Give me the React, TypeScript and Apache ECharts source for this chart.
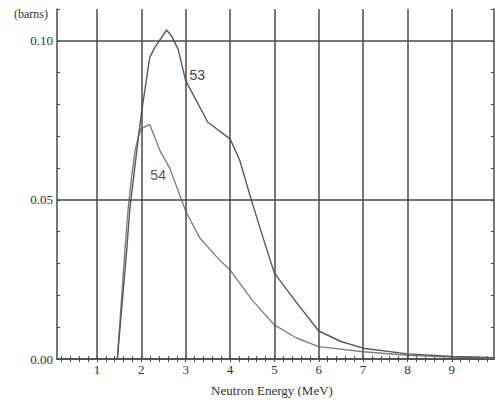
import React, { useEffect, useRef } from 'react';
import * as echarts from 'echarts';

// Neutron energy (MeV) and cross-section (barns)
const energy53 = [1.46, 1.67, 1.74, 1.86, 2.0, 2.19, 2.31, 2.57, 2.68, 2.83, 3.0, 3.5, 4.0, 4.22, 4.48, 4.74, 5.0, 5.5, 6.0, 6.5, 7.0, 8.0, 9.0, 9.95];
const sigma53 = [0, 0.034, 0.047, 0.061, 0.077, 0.0948, 0.098, 0.1034, 0.1016, 0.0974, 0.0875, 0.0744, 0.0692, 0.0624, 0.05, 0.0383, 0.027, 0.0177, 0.0088, 0.0055, 0.0034, 0.0016, 0.0008, 0.0004];

const energy54 = [1.46, 1.63, 1.7, 1.78, 1.86, 1.93, 2.0, 2.19, 2.42, 2.64, 3.0, 3.32, 3.77, 4.0, 4.5, 5.0, 5.5, 6.0, 7.0, 8.0, 9.0, 9.95];
const sigma54 = [0, 0.034, 0.0467, 0.057, 0.0655, 0.0697, 0.0724, 0.0737, 0.0655, 0.06, 0.0465, 0.038, 0.031, 0.028, 0.0185, 0.0107, 0.0066, 0.0039, 0.0023, 0.0012, 0.0006, 0.0003];

const xLabelValues = [1, 2, 3, 4, 5, 6, 7, 8, 9];
const xGridValues = [1, 2, 3, 4, 5, 6, 7, 8, 9];
const yGridValues = [0.05, 0.1];
const xMin = 0.1;
const xMax = 9.95;
const yMin = 0;
const yMax = 0.11;
const yTickStep = 0.01;
const xMinorStep = 0.2;

const label53 = { name: '53', coord: [3.26, 0.0893] };
const label54 = { name: '54', coord: [2.38, 0.0578] };

const xTickValues: number[] = [];
for (let k = 1; k * xMinorStep < xMax; k++) xTickValues.push(Math.round(k * xMinorStep * 10) / 10);

const SERIF = '"Liberation Serif", "DejaVu Serif", serif';
const AXIS_COLOR = '#4a4a4a';
const TEXT_COLOR = '#333';

export default function App() {
  const ref = useRef<HTMLDivElement>(null);
  useEffect(() => {
    if (!ref.current) return;
    const chart = echarts.init(ref.current, null, { renderer: 'svg' });
    const pairs = (xs: number[], ys: number[]) => xs.map((x, i) => [x, ys[i]]);
    const axisLine = { show: true, lineStyle: { color: AXIS_COLOR, width: 1.5 } };
    const tickStyle = { show: true, inside: true, length: 3, lineStyle: { color: AXIS_COLOR, width: 1 } };
    chart.setOption({
      animation: false,
      backgroundColor: '#fff',
      grid: { left: 57, top: 9, right: 1, bottom: 44, containLabel: false },
      xAxis: [
        {
          type: 'value', position: 'bottom', min: xMin, max: xMax,
          axisLine,
          axisTick: { ...tickStyle, customValues: xTickValues },
          axisLabel: { customValues: xLabelValues, color: TEXT_COLOR, fontFamily: SERIF, fontSize: 13, margin: 4, formatter: (v: number) => String(Math.round(v)) },
          splitLine: { show: false },
        },
        {
          type: 'value', position: 'top', min: xMin, max: xMax,
          axisLine,
          axisTick: { ...tickStyle, customValues: xTickValues },
          axisLabel: { show: false },
          splitLine: { show: false },
        },
      ],
      yAxis: [
        {
          type: 'value', position: 'left', min: yMin, max: yMax, interval: yTickStep,
          axisLine,
          axisTick: tickStyle,
          axisLabel: {
            color: TEXT_COLOR, fontFamily: SERIF, fontSize: 13, margin: 4,
            formatter: (v: number) => {
              const k = Math.round(v * 100);
              return k % 5 === 0 && k <= 10 ? (k / 100).toFixed(2) : '';
            },
          },
          splitLine: { show: false },
        },
        {
          type: 'value', position: 'right', min: yMin, max: yMax, interval: yTickStep,
          axisLine,
          axisTick: tickStyle,
          axisLabel: { show: false },
          splitLine: { show: false },
        },
      ],
      series: [
        {
          name: '53', type: 'line', data: pairs(energy53, sigma53), showSymbol: false, symbol: 'none',
          lineStyle: { color: '#585858', width: 1.4 },
          markPoint: {
            symbol: 'circle', symbolSize: 1, itemStyle: { color: 'rgba(0,0,0,0)' },
            label: { show: true, position: 'inside', formatter: '{b}', color: '#444', fontFamily: '"Liberation Sans Narrow", "Liberation Sans", sans-serif', fontSize: 14 },
            data: [label53],
          },
          z: 3,
        },
        {
          name: '54', type: 'line', data: pairs(energy54, sigma54), showSymbol: false, symbol: 'none',
          lineStyle: { color: '#808080', width: 1.4 },
          markPoint: {
            symbol: 'circle', symbolSize: 1, itemStyle: { color: 'rgba(0,0,0,0)' },
            label: { show: true, position: 'inside', formatter: '{b}', color: '#555', fontFamily: '"Liberation Sans Narrow", "Liberation Sans", sans-serif', fontSize: 14 },
            data: [label54],
          },
          markLine: {
            silent: true, symbol: ['none', 'none'], label: { show: false },
            lineStyle: { type: 'solid', color: AXIS_COLOR, width: 1.5 },
            data: [...xGridValues.map((v) => ({ xAxis: v })), ...yGridValues.map((v) => ({ yAxis: v }))],
          },
          z: 2,
        },
      ],
      graphic: [
        { type: 'text', left: 14, top: 8, style: { text: '(barns)', fill: TEXT_COLOR, font: '12px "Liberation Serif", serif' } },
        { type: 'text', x: 272, y: 390, style: { text: 'Neutron Energy (MeV)', fill: TEXT_COLOR, font: '13px "Liberation Serif", serif', textAlign: 'center', textVerticalAlign: 'middle' } },
      ],
    });
    return () => chart.dispose();
  }, []);
  return <div ref={ref} style={{ position: 'absolute', left: 0, top: 0, width: 495, height: 403, background: '#fff' }} />;
}
